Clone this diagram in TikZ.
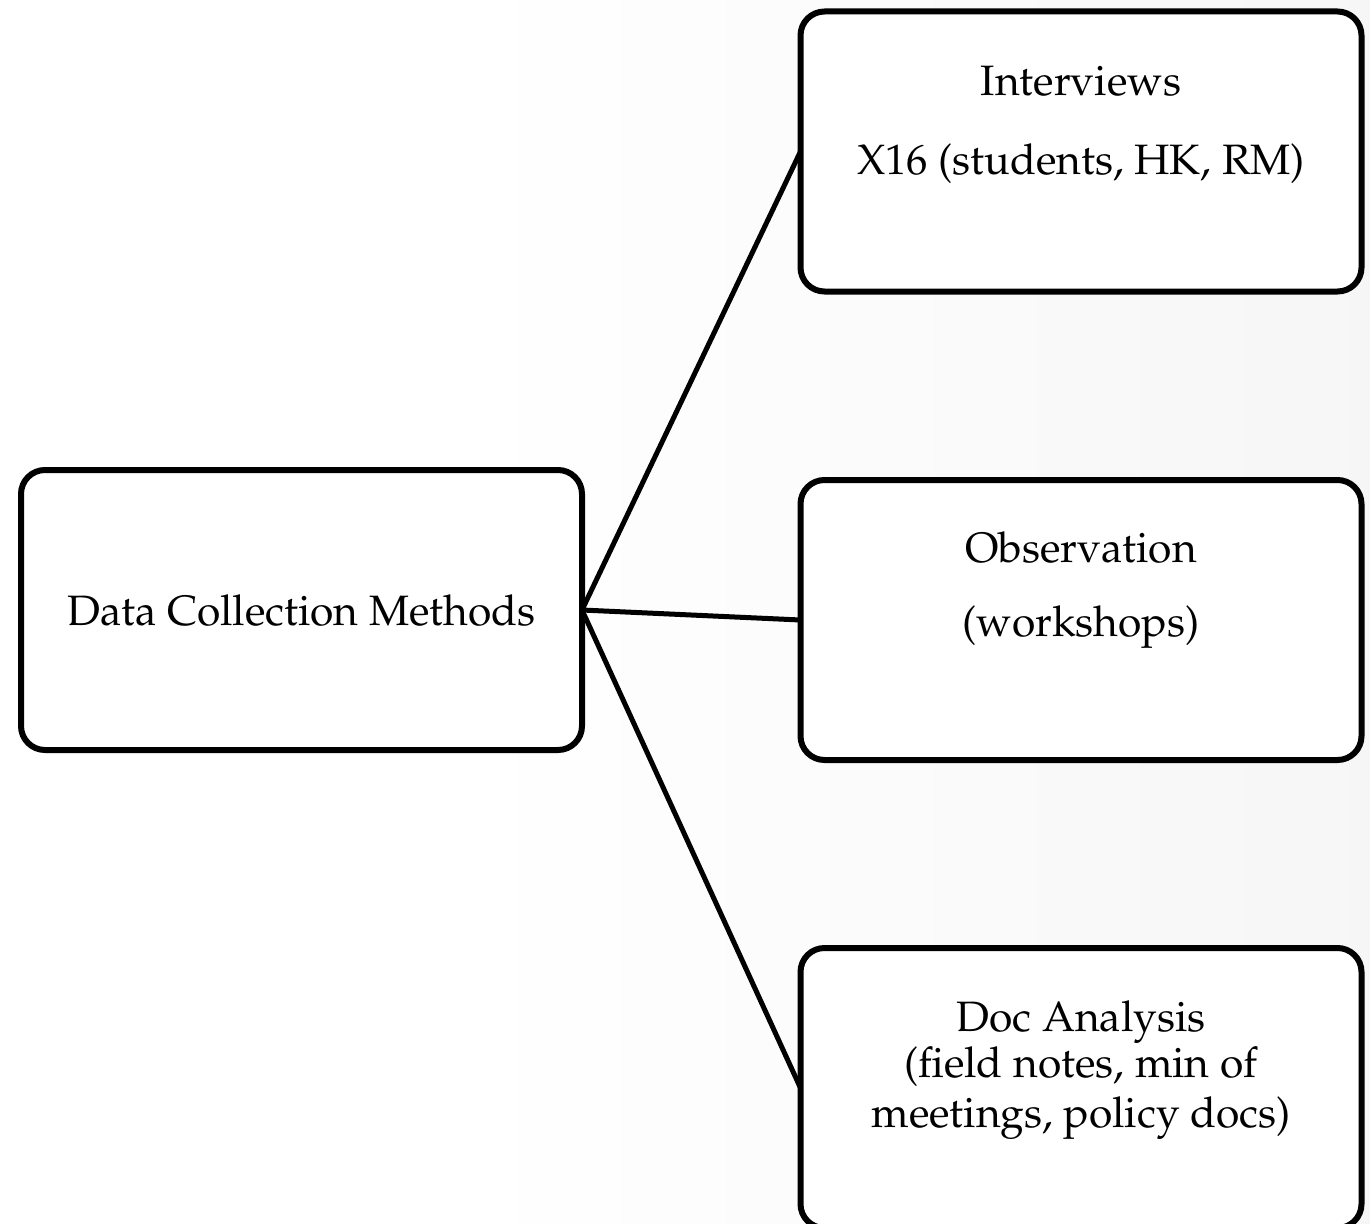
\documentclass[tikz,border=0pt]{standalone}
\usepackage[T1]{fontenc}
\usepackage{mathpazo}
\pgfdeclarehorizontalshading{pagefade}{100bp}{color(0bp)=(white); color(42bp)=(white); color(100bp)=(black!6)}
\tikzset{
  methodbox/.style={draw=black, line width=6pt, rounded corners=24pt, fill=white,
    minimum width=561pt, minimum height=280pt, inner sep=0pt, outer sep=0pt},
  boxtext/.style={font=\fontsize{42.5}{50}\selectfont, inner sep=0pt, anchor=base},
  link/.style={line width=5pt, line cap=round}
}
\begin{document}
\begin{tikzpicture}[x=1pt, y=-1pt]
  % page with a soft grey fade towards the right
  \shade[shading=pagefade] (0,0) rectangle (1370,1223);
  \useasboundingbox (0,0) rectangle (1370,1223);

  % boxes
  \node[methodbox] (dcm) at (301.5,610) {};
  \node[methodbox] (int) at (1081,151.5) {};
  \node[methodbox] (obs) at (1081,620) {};
  \node[methodbox] (doc) at (1081,1088) {};

  % connectors
  \draw[link] (dcm.east) -- (int.west);
  \draw[link] (dcm.east) -- (obs.west);
  \draw[link] (dcm.east) -- (doc.west);

  % texts
  \node[boxtext] (t0) at (301.5,625) {Data Collection Methods};
  \node[boxtext] (t1) at (1081,95) {Interviews};
  \node[boxtext] (t2) at (1081,174) {X16 (students, HK, RM)};
  \node[boxtext] (t3) at (1081,562) {Observation};
  \node[boxtext] (t4) at (1081,636) {(workshops)};
  \node[boxtext] (t5) at (1081,1031) {Doc Analysis};
  \node[boxtext] (t6) at (1081,1077) {(field notes, min of};
  \node[boxtext] (t7) at (1081,1127) {meetings, policy docs)};
\end{tikzpicture}
\end{document}
